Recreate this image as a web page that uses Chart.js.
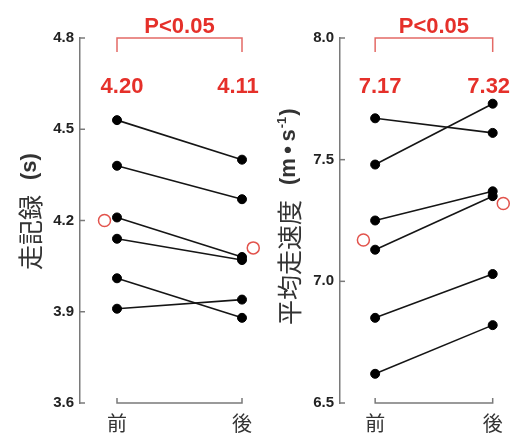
<!DOCTYPE html>
<html><head><meta charset="utf-8">
<script src="https://cdn.jsdelivr.net/npm/chart.js@4/dist/chart.umd.min.js"></script>
<style>
html,body{margin:0;padding:0;background:#fff;width:521px;height:433px;overflow:hidden}
canvas{position:absolute;left:0;top:0}
</style></head><body>
<canvas id="c1" width="521" height="433"></canvas>
<canvas id="c2" width="521" height="433"></canvas>
<script>
// ---- data ----
const categories = ['前', '後'];
const timePre  = [4.53, 4.38, 4.21, 4.14, 4.01, 3.91];
const timePost = [4.40, 4.27, 4.08, 4.07, 3.88, 3.94];
const timeMean = [4.20, 4.11];
const timeTicks = [3.6, 3.9, 4.2, 4.5, 4.8];
const speedPre  = [7.67, 7.48, 7.25, 7.13, 6.85, 6.62];
const speedPost = [7.61, 7.73, 7.37, 7.35, 7.03, 6.82];
const speedMean = [7.17, 7.32];
const speedTicks = [6.5, 7.0, 7.5, 8.0];
const pLabel = 'P<0.05';
const timeTitle = ['走記録', '(s)'];
const speedTitle = ['平均走速度', '(m\u2009•\u2009s', '-1', ')'];

const RED = '#e5302a';
const LATIN = '"Liberation Sans", Arial, "Noto Sans CJK JP", sans-serif';
const CJK = '"Noto Sans CJK JP", sans-serif';

const deco = {
  id: 'deco',
  afterDraw(chart, args, o) {
    const {ctx, chartArea: a, scales: {x, y}} = chart;
    const x0 = x.getPixelForValue(0), x1 = x.getPixelForValue(1);
    ctx.save();
    ctx.lineCap = 'butt';
    // inward y ticks
    ctx.strokeStyle = '#7a7a7a'; ctx.lineWidth = 1.5;
    y.ticks.forEach(t => {
      const py = y.getPixelForValue(t.value);
      ctx.beginPath(); ctx.moveTo(a.left, py); ctx.lineTo(a.left + 5, py); ctx.stroke();
    });
    // bottom bracket (x axis)
    ctx.beginPath();
    ctx.moveTo(x0, a.bottom - 5); ctx.lineTo(x0, a.bottom); ctx.lineTo(x1, a.bottom); ctx.lineTo(x1, a.bottom - 5);
    ctx.stroke();
    // top significance bracket
    ctx.strokeStyle = '#e46a66';
    ctx.beginPath();
    ctx.moveTo(x0, a.top + 14); ctx.lineTo(x0, a.top); ctx.lineTo(x1, a.top); ctx.lineTo(x1, a.top + 14);
    ctx.stroke();
    // texts
    ctx.fillStyle = RED;
    ctx.font = 'bold 22px ' + LATIN;
    ctx.textAlign = 'center'; ctx.textBaseline = 'alphabetic';
    ctx.fillText(pLabel, (x0 + x1) / 2, a.top - 5);
    ctx.fillText(o.mean[0].toFixed(2), x0 + 5, a.top + 55);
    ctx.fillText(o.mean[1].toFixed(2), x1 - 4, a.top + 55);
    // axis title (rotated)
    ctx.translate(o.titleX, o.titleY);
    ctx.rotate(-Math.PI / 2);
    ctx.fillStyle = '#333';
    ctx.textAlign = 'left'; ctx.textBaseline = 'middle';
    let pos = 0;
    o.title.forEach((t, i) => {
      if (i === 0) {
        ctx.font = '25px ' + CJK;
        ctx.fillText(t, pos, 0);
        pos += ctx.measureText(t).width + 15;
      } else if (t === '-1') {
        ctx.font = 'bold 13px ' + LATIN;
        ctx.fillText(t, pos + 1, -7);
        pos += ctx.measureText(t).width + 2;
      } else {
        ctx.font = 'bold 22px ' + LATIN;
        ctx.fillText(t, pos, 0);
        pos += ctx.measureText(t).width;
      }
    });
    ctx.restore();
  }
};

function makeChart(id, pre, post, mean, ticks, title, pad, xMin, xMax, titleX, titleY) {
  const datasets = pre.map((v, i) => ({
    data: [{x: 0, y: v}, {x: 1, y: post[i]}],
    showLine: true,
    borderColor: '#151515',
    borderWidth: 1.6,
    pointRadius: 4.5,
    pointBackgroundColor: '#000',
    pointBorderColor: '#000',
    pointBorderWidth: 1,
    clip: false
  }));
  datasets.push({
    data: [{x: -0.1, y: mean[0]}, {x: 1.09, y: mean[1]}],
    showLine: false,
    pointRadius: 6,
    pointBackgroundColor: 'rgba(255,255,255,0)',
    pointBorderColor: '#e2534c',
    pointBorderWidth: 1.5,
    clip: false
  });
  return new Chart(document.getElementById(id), {
    type: 'scatter',
    data: {datasets},
    options: {
      responsive: false,
      animation: false,
      layout: {padding: {left: pad.left, right: pad.right, top: 38, bottom: 0}},
      plugins: {legend: {display: false}, tooltip: {enabled: false},
        deco: {mean, title, titleX, titleY}},
      scales: {
        x: {
          type: 'linear', min: xMin, max: xMax,
          afterBuildTicks: s => { s.ticks = categories.map((c, i) => ({value: i})); },
          afterFit: s => { s.height = 30; },
          grid: {display: false, drawTicks: false},
          border: {display: false},
          ticks: {
            callback: v => categories[v],
            font: {family: '"Noto Sans CJK JP"', size: 20},
            color: '#333', padding: 8, maxRotation: 0
          }
        },
        y: {
          min: ticks[0], max: ticks[ticks.length - 1],
          afterBuildTicks: s => { s.ticks = ticks.map(v => ({value: v})); },
          afterFit: s => { s.width = 80; },
          grid: {display: false, drawTicks: false},
          border: {display: true, color: '#7a7a7a', width: 1.5},
          ticks: {
            callback: v => v.toFixed(1),
            font: {family: '"Liberation Sans", Arial', size: 15, weight: 'bold'},
            color: '#222', padding: 6
          }
        }
      }
    },
    plugins: [deco]
  });
}

makeChart('c1', timePre, timePost, timeMean, timeTicks, timeTitle,
  {left: 0, right: 256}, -0.296, 1.184, 30, 270);
makeChart('c2', speedPre, speedPost, speedMean, speedTicks, speedTitle,
  {left: 260, right: 0}, -0.299, 1.177, 289, 325);
</script>
</body></html>
